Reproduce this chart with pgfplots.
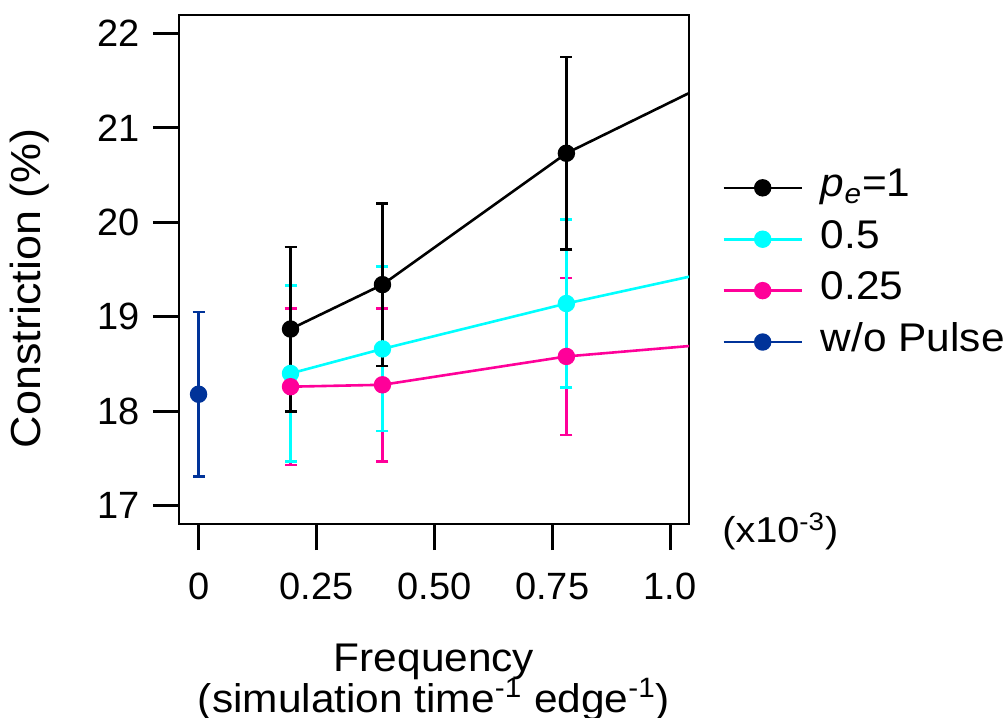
\documentclass[border=0pt]{standalone}
\usepackage{fontspec}
\setmainfont{Liberation Sans}
\usepackage{graphicx}
\usepackage{pgfplots}
\usepackage{pgfplotstable}
\pgfplotsset{compat=1.18}

\definecolor{pecyan}{RGB}{0,255,255}
\definecolor{pepink}{RGB}{255,0,153}
\definecolor{peblue}{RGB}{0,51,153}

% frequency (x1e-3), constriction (%), error
\pgfplotstableread{
x     y     e
0.195 18.87 0.87
0.39  19.34 0.86
0.78  20.73 1.02
1.56  22.64 1.00
}\pone
\pgfplotstableread{
x     y     e
0.195 18.40 0.93
0.39  18.66 0.87
0.78  19.14 0.89
1.56  19.99 0.90
}\phalf
\pgfplotstableread{
x     y     e
0.195 18.26 0.83
0.39  18.28 0.81
0.78  18.58 0.83
1.56  18.91 0.83
}\pquart
\pgfplotstableread{
x     y     e
0     18.18 0.87
}\pnone

\newcommand{\tickfont}{\fontsize{19}{22}\selectfont}
\newcommand{\wide}[1]{\scalebox{1.06}[1]{#1}}

\begin{document}
\begin{tikzpicture}
\begin{axis}[
  scale only axis, width=255pt, height=254.5pt,
  xmin=-0.0415, xmax=1.040, ymin=16.807, ymax=22.193,
  xtick={0,0.25,0.5,0.75,1}, xticklabels={0,0.25,0.50,0.75,1.0},
  ytick={17,18,...,22},
  xtick pos=left, ytick pos=left,
  tick align=outside, major tick length=13pt,
  axis line style={line width=1.4pt},
  every tick/.style={black, line width=1.4pt},
  /pgf/number format/assume math mode=true,
  tick label style={font=\tickfont},
  xticklabel style={yshift=-8pt},
  yticklabel style={xshift=-3pt},
  xlabel={\wide{Frequency}\\[-2.2pt]\wide{(simulation time\textsuperscript{-1} edge\textsuperscript{-1})}},
  xlabel style={font=\fontsize{20}{18}\selectfont, align=center,
    at={(axis description cs:0.5,-0.2358)}, anchor=north, inner sep=0pt},
  ylabel={\scalebox{1.07}[1]{Constriction (\%)}},
  ylabel style={font=\fontsize{21}{24}\selectfont,
    at={(axis description cs:-0.292,0.463)}, anchor=center, inner sep=0pt},
  legend style={draw=none, fill=none, at={(axis description cs:1.0647,0.509)}, anchor=west,
    inner sep=0pt, row sep=9.7pt, column sep=9pt, font=\fontsize{20}{22}\selectfont,
    nodes={inner sep=0pt, text height=12.5pt, text depth=3.5pt}},
  legend cell align=left,
  legend image code/.code={\draw[mark repeat=2, mark phase=2] plot coordinates {(0pt,0pt) (19.5pt,0pt) (39pt,0pt)};},
  error bars/error bar style={line width=1.3pt},
  error bars/error mark options={line width=1.3pt, mark size=3pt, rotate=90},
]
% error bars first, lines and dots on top
\addplot[forget plot, pepink, only marks, mark=none, error bars/.cd, y dir=both, y explicit]
  table[x=x, y=y, y error=e] {\pquart};
\addplot[forget plot, pecyan, only marks, mark=none, error bars/.cd, y dir=both, y explicit]
  table[x=x, y=y, y error=e] {\phalf};
\addplot[forget plot, black, only marks, mark=none, error bars/.cd, y dir=both, y explicit]
  table[x=x, y=y, y error=e] {\pone};
\addplot[forget plot, peblue, only marks, mark=none, error bars/.cd, y dir=both, y explicit]
  table[x=x, y=y, y error=e] {\pnone};

\addplot[black, line width=1.3pt, mark=*, mark size=3.7pt] table[x=x, y=y] {\pone};
\addlegendentry{\wide{\textit{p}\textsubscript{\textit{e}}=1}}
\addplot[pecyan, line width=1.3pt, mark=*, mark size=3.7pt] table[x=x, y=y] {\phalf};
\addlegendentry{\wide{0.5}}
\addplot[pepink, line width=1.3pt, mark=*, mark size=3.7pt] table[x=x, y=y] {\pquart};
\addlegendentry{\wide{0.25}}
\addplot[peblue, line width=1.3pt, mark=*, mark size=3.7pt] table[x=x, y=y] {\pnone};
\addlegendentry{\wide{w/o Pulse}}

\coordinate (bl) at (rel axis cs:0,0);
\coordinate (tr) at (rel axis cs:1,1);
\coordinate (sc) at (axis description cs:1.0647,-0.0373);
\end{axis}
\node[anchor=base west, inner sep=0pt, font=\fontsize{18}{20}\selectfont] at (sc) {\scalebox{1.1}[1]{(x10\textsuperscript{-3})}};
\pgfresetboundingbox
\path[use as bounding box] ([xshift=-89.5pt,yshift=-97pt]bl) rectangle ([xshift=159.5pt,yshift=7.5pt]tr);
\end{tikzpicture}
\end{document}
